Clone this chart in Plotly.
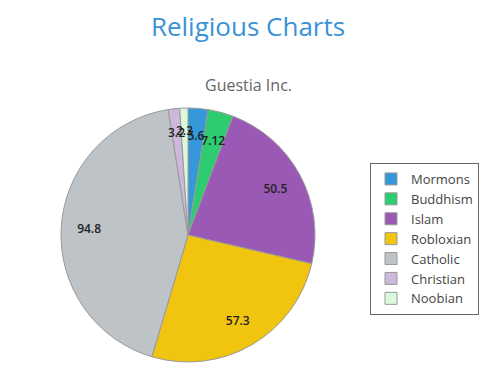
import plotly.graph_objects as go

labels = ["Mormons", "Buddhism", "Islam", "Robloxian", "Catholic", "Christian", "Noobian"]
values = [5.6, 7.12, 50.5, 57.3, 94.8, 3.2, 2.3]
colors = ["#3498db", "#2ecc71", "#9b59b6", "#f1c40f", "#bdc3c7", "#cdb8db", "#ddf9dc"]

W, H = 480, 359
CX, CY, R = 180, 227, 127


def domain(r):
    return dict(x=[(CX - r) / W, (CX + r) / W], y=[(H - CY - r) / H, (H - CY + r) / H])


big_text = [f"{v:g}" if v >= 10 else "" for v in values]
small_text = [f"{v:g}" if v < 10 else "" for v in values]

fig = go.Figure()
# filled pie (no text)
fig.add_trace(go.Pie(
    labels=labels, values=values, sort=False, direction="clockwise", rotation=0,
    textinfo="none",
    marker=dict(colors=colors, line=dict(color="#999999", width=1)),
    domain=domain(R),
    hoverinfo="label+value",
))
# text layers: same data, transparent, so labels sit out toward the rim
for txt, r, hole in [(big_text, R, 0.56), (small_text, 108, 0.5)]:
    fig.add_trace(go.Pie(
        labels=labels, values=values, sort=False, direction="clockwise", rotation=0,
        hole=hole,
        text=txt, textinfo="text",
        textposition="inside",
        insidetextorientation="horizontal",
        textfont=dict(color="#222222", size=12, family="Open Sans", weight=600),
        marker=dict(colors=["rgba(0,0,0,0)"] * len(labels), line=dict(width=0)),
        domain=domain(r),
        showlegend=False,
        hoverinfo="skip",
    ))

fig.update_layout(
    width=W, height=H,
    margin=dict(l=0, r=0, t=0, b=0),
    paper_bgcolor="white",
    font=dict(family="Open Sans", color="#444"),
    uniformtext=dict(minsize=12, mode="show"),
    title=dict(text="Religious Charts", x=0.5, xanchor="center", y=1 - 18.5 / H, yanchor="middle",
               font=dict(size=26, color="#3a93d6", family="Open Sans")),
    legend=dict(x=362 / W, y=(H - 155) / H, xanchor="left", yanchor="top",
                bordercolor="#666", borderwidth=1, bgcolor="white",
                font=dict(size=13, color="#444"), traceorder="normal"),
    annotations=[dict(text="Guestia Inc.", x=0.5, y=1 - 77 / H, xref="paper", yref="paper",
                      xanchor="center", yanchor="middle", showarrow=False,
                      font=dict(size=16, color="#666"))],
)

fig.write_html("out.html")
